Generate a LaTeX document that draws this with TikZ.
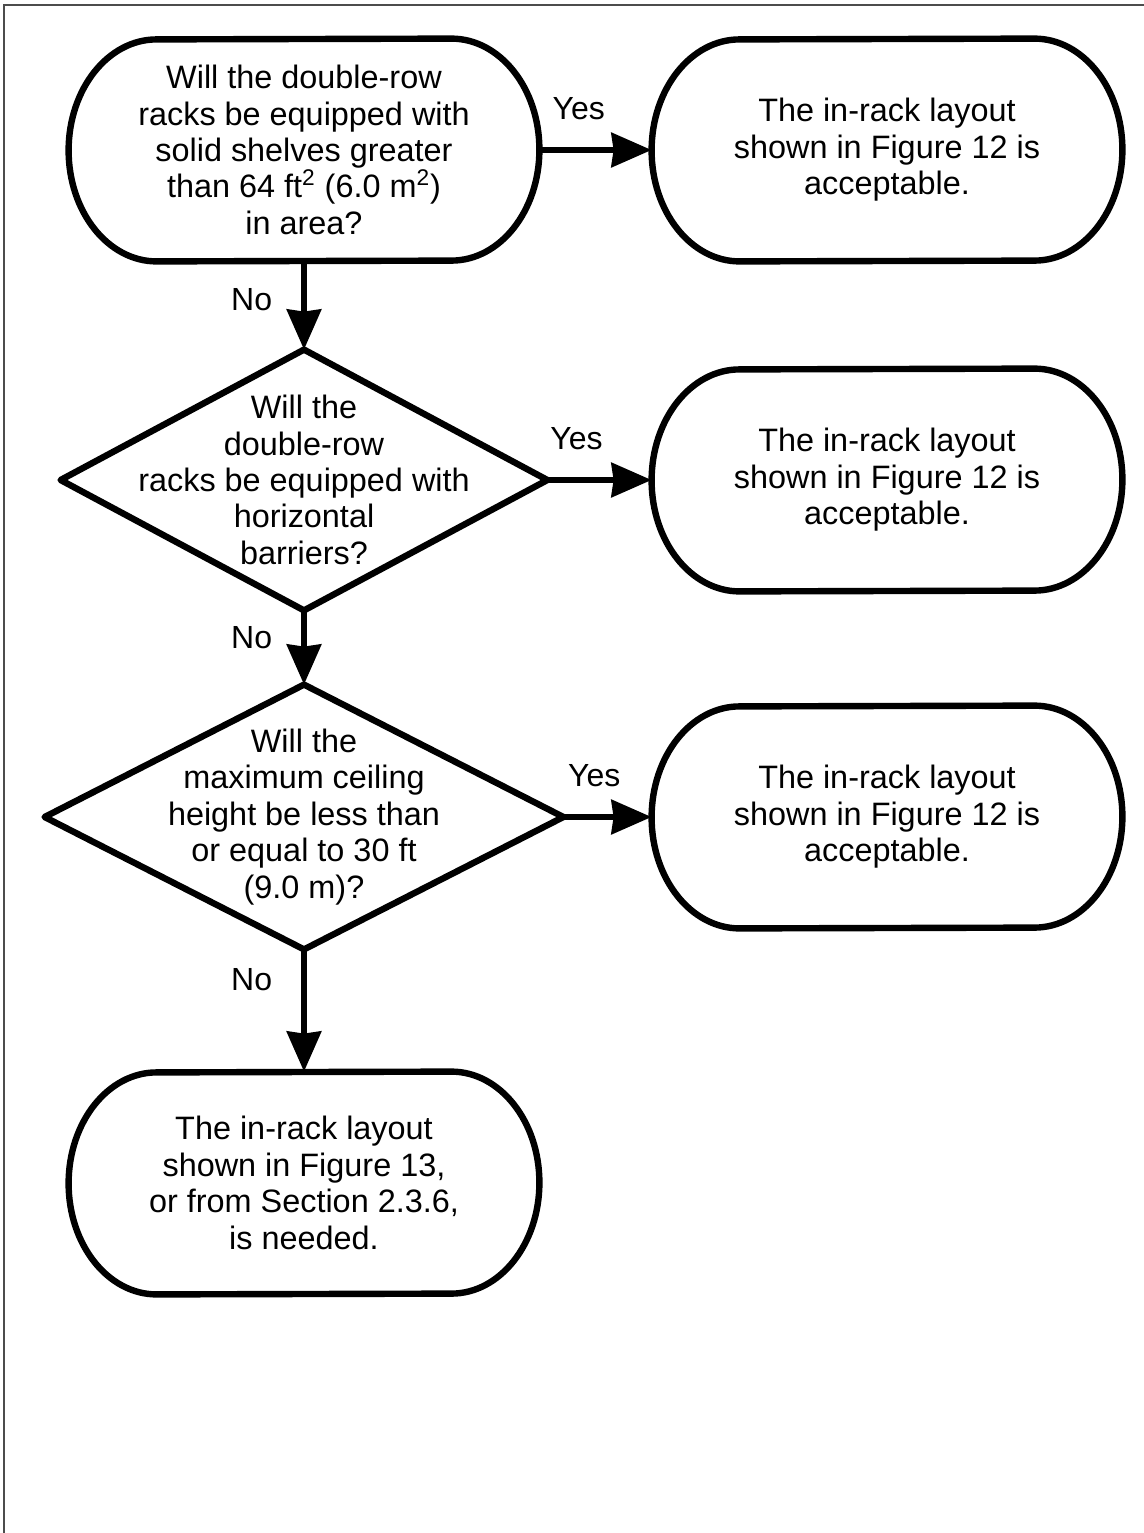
\documentclass[tikz,border=0pt]{standalone}
\usepackage{fontspec}
\setmainfont{Liberation Sans}
\usetikzlibrary{arrows.meta}

\tikzstyle{textonly}=[align=center, inner sep=0pt, font=\fontsize{16.2}{18.2}\selectfont]
\tikzstyle{term}=[textonly, minimum width=235pt, minimum height=111pt]
\tikzstyle{ask}=[textonly, minimum height=130pt]
\tikzstyle{outline}=[line width=3.2pt, line join=round]
\tikzstyle{flow}=[-{Stealth[length=20pt, width=17pt, inset=1pt]}, line width=3.2pt]
\tikzstyle{answer}=[font=\fontsize{16}{18}\selectfont]
\tikzstyle{frame}=[line width=0.8pt, draw=black!70]

\begin{document}
\begin{tikzpicture}[x=0.5pt, y=-0.5pt]
  \useasboundingbox (0,0) rectangle (1144,1533);
  \draw [frame] (4,1533) -- (4,5) -- (1144,5);

  % Nodes
  \node (shelves) [term] at (304,150) {Will the double-row\\racks be equipped with\\solid shelves greater\\than 64 ft\textsuperscript{2} (6.0 m\textsuperscript{2})\\in area?};
  \node (okshelves) [term] at (887,150) {The in-rack layout\\shown in Figure 12 is\\acceptable.};
  \node (barriers) [ask, minimum width=243pt] at (304,480) {Will the\\double-row\\racks be equipped with\\horizontal\\barriers?};
  \node (okbarriers) [term] at (887,480) {The in-rack layout\\shown in Figure 12 is\\acceptable.};
  \node (ceiling) [ask, minimum width=259pt, minimum height=132pt] at (304,817) {Will the\\maximum ceiling\\height be less than\\or equal to 30 ft\\(9.0 m)?};
  \node (okceiling) [term] at (887,817) {The in-rack layout\\shown in Figure 12 is\\acceptable.};
  \node (needed) [term] at (304,1183) {The in-rack layout\\shown in Figure 13,\\or from Section 2.3.6,\\is needed.};

  % Outlines
  \foreach \n in {shelves, okshelves, okbarriers, okceiling, needed}
    \draw [outline] ([xshift=-44pt]\n.north east) arc[start angle=90, end angle=-90, x radius=44pt, y radius=55.5pt]
      -- ([xshift=44pt]\n.south west) arc[start angle=270, end angle=90, x radius=44pt, y radius=55.5pt] -- cycle;
  \foreach \n in {barriers, ceiling}
    \draw [outline] (\n.north) -- (\n.east) -- (\n.south) -- (\n.west) -- cycle;

  % Arrows
  \draw [flow] (shelves.east) -- node[answer, pos=0.35, above=10pt](yes1){Yes} (okshelves.west);
  \draw [flow] (barriers.east) -- node[answer, pos=0.28, above=10pt](yes2){Yes} (okbarriers.west);
  \draw [flow] (ceiling.east) -- node[answer, pos=0.35, above=10pt](yes3){Yes} (okceiling.west);
  \draw [flow] (shelves.south) -- node[answer, pos=0.43, left=11pt](no1){No} (barriers.north);
  \draw [flow] (barriers.south) -- node[answer, pos=0.37, left=11pt](no2){No} (ceiling.north);
  \draw [flow] (ceiling.south) -- node[answer, pos=0.25, left=11pt](no3){No} (needed.north);
\end{tikzpicture}
\end{document}
